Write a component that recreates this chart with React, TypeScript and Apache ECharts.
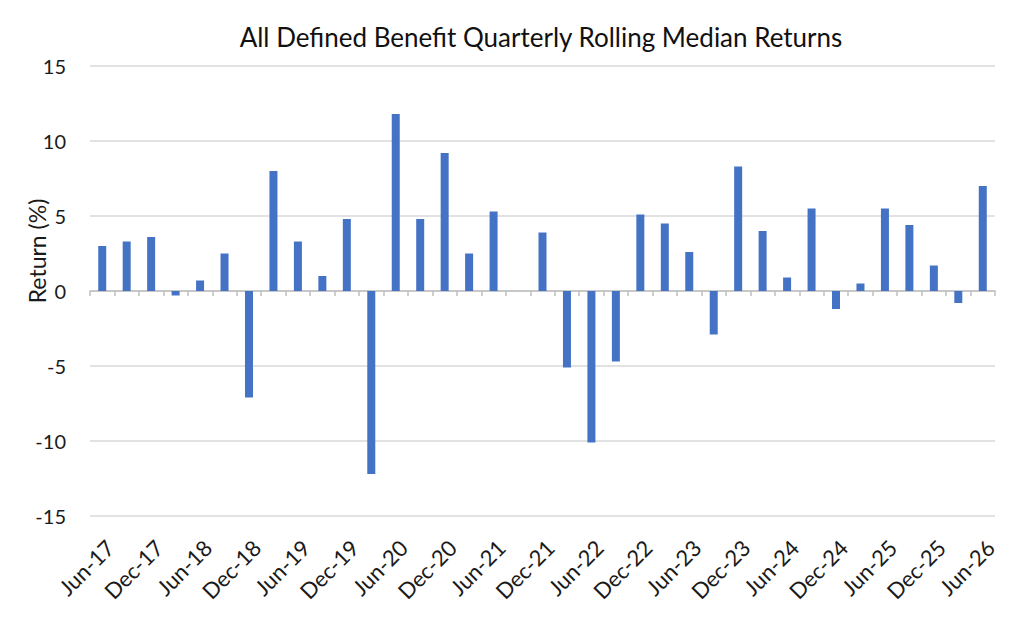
import React, { useEffect, useRef } from "react";
import * as echarts from "echarts";

const categories: string[] = [
  "Jun-17", "Sep-17", "Dec-17", "Mar-18", "Jun-18", "Sep-18", "Dec-18", "Mar-19",
  "Jun-19", "Sep-19", "Dec-19", "Mar-20", "Jun-20", "Sep-20", "Dec-20", "Mar-21",
  "Jun-21", "Sep-21", "Dec-21", "Mar-22", "Jun-22", "Sep-22", "Dec-22", "Mar-23",
  "Jun-23", "Sep-23", "Dec-23", "Mar-24", "Jun-24", "Sep-24", "Dec-24", "Mar-25",
  "Jun-25", "Sep-25", "Dec-25", "Mar-26", "Jun-26",
];

const returns: number[] = [
  3.0, 3.3, 3.6, -0.3, 0.7, 2.5, -7.1, 8.0,
  3.3, 1.0, 4.8, -12.2, 11.8, 4.8, 9.2, 2.5,
  5.3, 0, 3.9, -5.1, -10.1, -4.7, 5.1, 4.5,
  2.6, -2.9, 8.3, 4.0, 0.9, 5.5, -1.2, 0.5,
  5.5, 4.4, 1.7, -0.8, 7.0,
];

const yMin = -15;
const yMax = 15;
const yStep = 5;

const titleText = "All Defined Benefit Quarterly Rolling Median Returns";
const yAxisTitle = "Return (%)";

export default function App() {
  const ref = useRef<HTMLDivElement>(null);

  useEffect(() => {
    if (!ref.current) return;
    const chart = echarts.init(ref.current, undefined, { renderer: "svg" });
    const font = "Lato, 'Open Sans', sans-serif";
    chart.setOption({
      animation: false,
      backgroundColor: "#ffffff",
      textStyle: { fontFamily: font },
      title: {
        text: titleText,
        left: 541,
        top: 24,
        padding: 0,
        textAlign: "center",
        textStyle: {
          fontFamily: font,
          fontSize: 26,
          fontWeight: "normal",
          color: "#111111",
        },
      },
      grid: { left: 90, right: 29, top: 66, bottom: 113, containLabel: false },
      xAxis: [
        {
          type: "category",
          data: categories,
          position: "bottom",
          boundaryGap: true,
          axisLine: { show: false, onZero: false },
          axisTick: { show: false },
          splitLine: { show: false },
          axisLabel: {
            interval: 1,
            rotate: 45,
            margin: 20,
            align: "right",
            verticalAlign: "top",
            fontFamily: font,
            fontSize: 22,
            color: "#1a1a1a",
          },
        },
        {
          type: "category",
          data: categories,
          position: "top",
          boundaryGap: true,
          axisLine: {
            show: true,
            onZero: true,
            onZeroAxisIndex: 0,
            lineStyle: { color: "#bfbfbf", width: 1.5 },
          },
          axisTick: {
            show: true,
            inside: true,
            length: 5,
            interval: 0,
            lineStyle: { color: "#bfbfbf", width: 1.5 },
          },
          axisLabel: { show: false },
          splitLine: { show: false },
        },
      ],
      yAxis: {
        type: "value",
        min: yMin,
        max: yMax,
        interval: yStep,
        axisLine: { show: false },
        axisTick: { show: false },
        axisLabel: {
          margin: 24,
          fontFamily: font,
          fontSize: 20,
          color: "#1a1a1a",
        },
        splitLine: { show: true, lineStyle: { color: "#d9d9d9", width: 1.5 } },
      },
      graphic: [
        {
          type: "text",
          x: 37,
          y: 251,
          rotation: Math.PI / 2,
          style: {
            text: yAxisTitle,
            fontFamily: font,
            fontSize: 23,
            fill: "#1a1a1a",
            textAlign: "center",
            textVerticalAlign: "middle",
          },
        },
      ],
      series: [
        {
          type: "bar",
          xAxisIndex: 0,
          data: returns,
          barWidth: 8,
          itemStyle: { color: "#4472c4" },
        },
      ],
    });
    return () => chart.dispose();
  }, []);

  return (
    <div
      ref={ref}
      style={{ position: "fixed", left: 0, top: 0, width: 1024, height: 629 }}
    />
  );
}
